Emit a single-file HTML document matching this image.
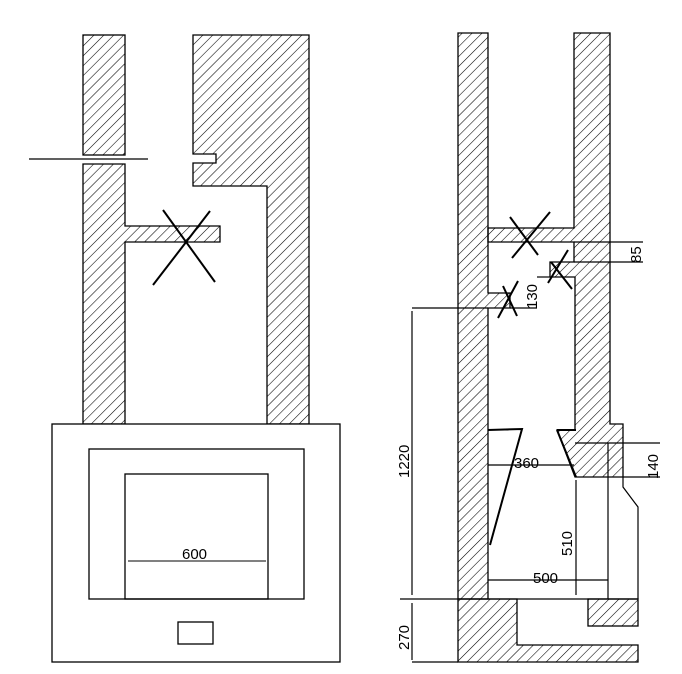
<!DOCTYPE html>
<html><head><meta charset="utf-8"><style>
html,body{margin:0;padding:0;background:#fff;}
svg{display:block;}
text{font-family:"Liberation Sans",sans-serif;font-size:15px;fill:#000;}
</style></head><body>
<svg width="682" height="674" viewBox="0 0 682 674" xmlns="http://www.w3.org/2000/svg">
<defs>
<pattern id="h" width="7" height="7" patternUnits="userSpaceOnUse" patternTransform="rotate(45)">
<line x1="0" y1="0" x2="0" y2="7" stroke="#000" stroke-width="1.1"/>
</pattern>
</defs>
<g stroke="#000" stroke-width="1.3" fill="url(#h)">
<rect x="83" y="35" width="42" height="120"/>
<polygon points="83,164 125,164 125,226 220,226 220,242 125,242 125,424 83,424"/>
<polygon points="193,35 309,35 309,424 267,424 267,186 193,186 193,163 216,163 216,154 193,154"/>
</g>
<g stroke="#000" stroke-width="1.3" fill="none">
<line x1="29" y1="159" x2="148" y2="159"/>
<rect x="52" y="424" width="288" height="238" fill="#fff"/>
<rect x="89" y="449" width="215" height="150"/>
<rect x="125" y="474" width="143" height="125"/>
<line x1="128" y1="561" x2="266" y2="561" stroke-width="1"/>
<rect x="178" y="622" width="35" height="22"/>
</g>
<g stroke="#000" stroke-width="2">
<line x1="163" y1="210" x2="215" y2="282"/>
<line x1="153" y1="285" x2="210" y2="211"/>
</g>
<text x="182" y="559">600</text>

<g stroke="#000" stroke-width="1.3" fill="url(#h)">
<polygon points="458,33 488,33 488,293 510,293 510,308 488,308 488,599 458,599"/>
<polygon points="574,33 610,33 610,424 623,424 623,477 575,477 557,430 575,430 575,277 550,277 550,262 574,262 574,242 488,242 488,228 574,228"/>
<polygon points="458,599 517,599 517,645 638,645 638,662 458,662"/>
<rect x="588" y="599" width="50" height="27"/>
</g>
<g stroke="#000" stroke-width="1.2" fill="none">
<line x1="574" y1="242" x2="643" y2="242"/>
<line x1="574" y1="262" x2="643" y2="262"/>
<line x1="537" y1="277" x2="550" y2="277"/>
<line x1="510" y1="308" x2="537" y2="308"/>
<line x1="412" y1="308" x2="488" y2="308"/>
<line x1="412" y1="311" x2="412" y2="595"/>
<line x1="412" y1="603" x2="412" y2="660"/>
<line x1="400" y1="599" x2="638" y2="599"/>
<line x1="412" y1="662" x2="458" y2="662"/>
<line x1="488" y1="465" x2="574" y2="465"/>
<line x1="488" y1="580" x2="608" y2="580"/>
<line x1="576" y1="480" x2="576" y2="595"/>
<line x1="575" y1="443" x2="660" y2="443"/>
<line x1="623" y1="477" x2="660" y2="477"/>
<line x1="608" y1="443" x2="608" y2="599"/>
<polyline points="623,477 623,487 638,507 638,599"/>
</g>
<g stroke="#000" stroke-width="2" fill="none">
<polyline points="488,430 522,429 490,545"/>
<line x1="557" y1="430" x2="576" y2="430"/>
<line x1="557" y1="430" x2="576" y2="477"/>
<line x1="510" y1="217" x2="538" y2="255"/>
<line x1="512" y1="258" x2="550" y2="212"/>
<line x1="551" y1="262" x2="572" y2="289"/>
<line x1="548" y1="283" x2="568" y2="250"/>
<line x1="503" y1="286" x2="517" y2="316"/>
<line x1="498" y1="318" x2="518" y2="281"/>
</g>
<text x="514" y="468">360</text>
<text x="533" y="583">500</text>
<text transform="translate(572,556) rotate(-90)">510</text>
<text transform="translate(409,478) rotate(-90)">1220</text>
<text transform="translate(409,650) rotate(-90)">270</text>
<text transform="translate(537,309) rotate(-90)">130</text>
<text transform="translate(641,263) rotate(-90)">85</text>
<text transform="translate(658,479) rotate(-90)">140</text>
</svg>
</body></html>
